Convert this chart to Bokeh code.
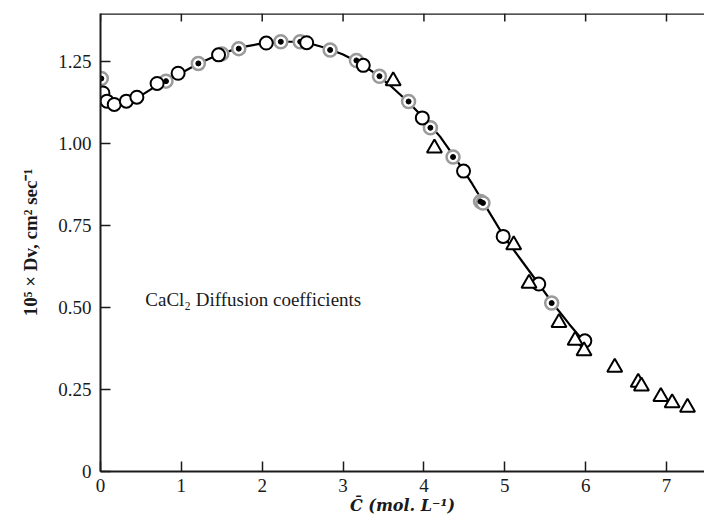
from bokeh.plotting import figure
from bokeh.models import Range1d, FixedTicker, Label, ColumnDataSource, Span
from bokeh.embed import file_html
from bokeh.resources import INLINE

# ---- data ----
# smooth fitted curve (C, 10^5 Dv)
curve_c = [0.0, 0.02, 0.05, 0.1, 0.17, 0.25, 0.35, 0.5, 0.7, 0.85, 1.0, 1.2, 1.4, 1.6, 1.8,
           2.0, 2.2, 2.4, 2.6, 2.8, 3.0, 3.2, 3.4, 3.6, 3.8, 4.0, 4.2, 4.4, 4.6, 4.8,
           5.0, 5.2, 5.4, 5.6, 5.8, 6.0]
curve_d = [1.20, 1.165, 1.14, 1.125, 1.118, 1.12, 1.128, 1.145, 1.176, 1.195, 1.214, 1.241,
           1.263, 1.281, 1.295, 1.304, 1.309, 1.309, 1.303, 1.289, 1.270, 1.245, 1.212,
           1.172, 1.127, 1.076, 1.020, 0.950, 0.875, 0.793, 0.712, 0.645, 0.578, 0.510,
           0.448, 0.390]

# open circles
open_c = [0.03, 0.08, 0.17, 0.32, 0.45, 0.70, 0.96, 1.46, 2.05, 2.55, 3.25, 3.98, 4.49,
          4.98, 5.42, 5.99]
open_d = [1.153, 1.128, 1.118, 1.128, 1.140, 1.182, 1.213, 1.269, 1.305, 1.306, 1.237,
          1.077, 0.915, 0.716, 0.571, 0.398]

# dotted circles
dot_c = [0.01, 0.81, 1.21, 1.50, 1.71, 2.23, 2.47, 2.84, 3.165, 3.45, 3.81, 4.08, 4.36,
         4.70, 4.73, 5.58]
dot_d = [1.197, 1.189, 1.243, 1.272, 1.288, 1.309, 1.309, 1.284, 1.252, 1.204, 1.127,
         1.047, 0.958, 0.822, 0.818, 0.513]

# triangles
tri_c = [3.62, 4.13, 5.11, 5.30, 5.67, 5.87, 5.98, 6.36, 6.65, 6.69, 6.93, 7.07, 7.26]
tri_d = [1.190, 0.985, 0.690, 0.573, 0.453, 0.399, 0.367, 0.317, 0.271, 0.260, 0.228,
         0.209, 0.195]

x_ticks = [0, 1, 2, 3, 4, 5, 6, 7]
y_ticks = [0, 0.25, 0.5, 0.75, 1.0, 1.25]
y_tick_labels = ["0", "0.25", "0.50", "0.75", "1.00", "1.25"]

annotation = "CaCl\u2082 Diffusion coefficients"
x_label = "C\u0304 (mol. L\u207b\u00b9)"
y_label = "10\u2075 \u00d7 Dv, cm\u00b2 sec\u207b\u00b9"

SERIF = "Liberation Serif"
INK = "#1a1a1a"
X_END, Y_END = 7.47, 1.395

p = figure(width=704, height=519, x_range=Range1d(0, X_END), y_range=Range1d(0, Y_END),
           output_backend="svg", toolbar_location=None,
           min_border_left=100, min_border_right=0, min_border_top=13, min_border_bottom=48)
p.outline_line_color = None
p.grid.visible = False
p.background_fill_color = "white"
p.border_fill_color = "white"

for ax in (p.xaxis[0], p.yaxis[0]):
    ax.axis_line_color = INK
    ax.axis_line_width = 2
    ax.major_tick_line_color = INK
    ax.major_tick_line_width = 1.5
    ax.major_tick_in = 10
    ax.major_tick_out = 0
    ax.minor_tick_line_color = None
    ax.major_label_text_font = SERIF
    ax.major_label_text_font_size = "19px"
    ax.major_label_text_color = INK
    ax.axis_label_text_color = INK

p.xaxis.ticker = FixedTicker(ticks=x_ticks)
p.xaxis.major_label_standoff = 7
p.xaxis.axis_label = x_label
p.xaxis.axis_label_text_font = "DejaVu Serif"
p.xaxis.axis_label_text_font_style = "bold italic"
p.xaxis.axis_label_text_font_size = "16px"
p.xaxis.axis_label_standoff = 1

p.yaxis.ticker = FixedTicker(ticks=y_ticks)
p.yaxis.major_label_overrides = {t: s for t, s in zip(y_ticks, y_tick_labels)}
p.yaxis.major_label_standoff = 9
p.yaxis.axis_label = y_label
p.yaxis.axis_label_text_font = SERIF
p.yaxis.axis_label_text_font_style = "bold"
p.yaxis.axis_label_text_font_size = "19px"
p.yaxis.axis_label_standoff = 14

# top frame line with inward ticks
p.add_layout(Span(location=Y_END, dimension="width", line_color=INK, line_width=2.5))
p.segment(x0=x_ticks, y0=[Y_END] * len(x_ticks), x1=x_ticks,
          y1=[Y_END - 8 / 328] * len(x_ticks), line_color=INK, line_width=1.5)

p.line(curve_c, curve_d, line_color="black", line_width=2.2)

dsrc = ColumnDataSource(dict(x=dot_c, y=dot_d))
p.scatter("x", "y", source=dsrc, marker="circle", size=13, fill_color="white",
          line_color="#9a9a9a", line_width=2.5)
p.scatter("x", "y", source=dsrc, marker="circle", size=5, fill_color="black",
          line_color="black")

p.scatter(open_c, open_d, marker="circle", size=13, fill_color="white",
          line_color="black", line_width=2)

p.scatter(tri_c, tri_d, marker="triangle", size=15, fill_color="white",
          line_color="black", line_width=2)

p.add_layout(Label(x=0.554, y=0.524, text=annotation, text_font=SERIF,
                   text_font_size="19px", text_color=INK, text_baseline="middle"))

open("out.html", "w").write(file_html(p, INLINE))
